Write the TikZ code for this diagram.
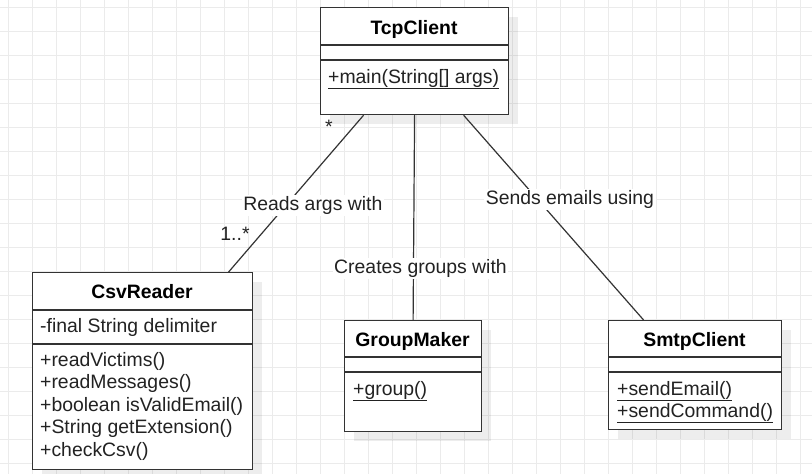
\documentclass[tikz,border=0pt]{standalone}
\usepackage{fontspec}
\setmainfont{Liberation Sans}
\usetikzlibrary{calc,shadows}
\definecolor{gridc}{HTML}{EBEBEB}
\definecolor{linec}{HTML}{333333}
\definecolor{txtc}{HTML}{222222}
\tikzset{
  classbox/.style={draw=linec, line width=1.2pt, fill=white, anchor=north west, inner sep=0pt,
    drop shadow={shadow xshift=9pt, shadow yshift=-9pt, fill=black, opacity=0.07}},
  sepline/.style={draw=linec, line width=1.2pt},
  title/.style={font=\fontsize{19.4}{22}\selectfont\bfseries, text=black, anchor=base, inner sep=0pt},
  member/.style={font=\fontsize{19.4}{22}\selectfont, text=txtc, anchor=base west, inner sep=0pt},
  conn/.style={draw=linec, line width=1.2pt},
  lbl/.style={font=\fontsize{19.4}{22}\selectfont, text=txtc, fill=white, inner sep=1.5pt},
  mult/.style={font=\fontsize{19.4}{22}\selectfont, text=txtc, inner sep=0pt}
}
\begin{document}
\begin{tikzpicture}[x=1pt, y=-1pt]
\useasboundingbox (0,0) rectangle (812,474);
\fill[white] (0,0) rectangle (812,474);
% grid
\foreach \gx in {8,32,...,800} { \draw[gridc, line width=1pt] (\gx,0) -- (\gx,474); }
\foreach \gy in {7,31,...,463} { \draw[gridc, line width=1pt] (0,\gy) -- (812,\gy); }

% TcpClient
\node[classbox, minimum width=188pt, minimum height=107pt] (tcp) at (320,7) {};
\draw[sepline] (320,45) -- (508,45);
\draw[sepline] (320,60) -- (508,60);
\node[title] (tcpt) at (414,34) {TcpClient};
\node[member] (tcpm) at (328,83) {\underline{+main(String[] args)}};

% CsvReader
\node[classbox, minimum width=220pt, minimum height=197pt] (csv) at (32,272) {};
\draw[sepline] (32,310) -- (252,310);
\draw[sepline] (32,344) -- (252,344);
\node[title] (csvt) at (142,298) {CsvReader};
\node[member] (csva) at (40,332.5) {-final String delimiter};
\node[member] (csvm1) at (40,366) {+readVictims()};
\node[member] (csvm2) at (40,388.5) {+readMessages()};
\node[member] (csvm3) at (40,411) {+boolean isValidEmail()};
\node[member] (csvm4) at (40,433.5) {+String getExtension()};
\node[member] (csvm5) at (40,456) {+checkCsv()};

% GroupMaker
\node[classbox, minimum width=137pt, minimum height=111pt] (gm) at (344,320) {};
\draw[sepline] (344,357) -- (481,357);
\draw[sepline] (344,372) -- (481,372);
\node[title] (gmt) at (412.5,346.5) {GroupMaker};
\node[member] (gmm) at (353,395) {\underline{+group()}};

% SmtpClient
\node[classbox, minimum width=173pt, minimum height=109pt] (smtp) at (608,320) {};
\draw[sepline] (608,357) -- (781,357);
\draw[sepline] (608,372) -- (781,372);
\node[title] (smtpt) at (694.5,346.5) {SmtpClient};
\node[member] (smtpm1) at (617,395) {\underline{+sendEmail()}};
\node[member] (smtpm2) at (617,417) {\underline{+sendCommand()}};

% connectors
\draw[conn] ([xshift=-51pt]tcp.south) -- ([xshift=86pt]csv.north)
  node[lbl, pos=0.576, xshift=27pt] (l1) {Reads args with};
\draw[conn] (tcp.south) -- (gm.north)
  node[lbl, pos=0.748, xshift=7pt] (l2) {Creates groups with};
\draw[conn] ([xshift=49pt]tcp.south) -- ([xshift=-51.5pt]smtp.north)
  node[lbl, pos=0.413, xshift=32pt] (l3) {Sends emails using};

\node[mult] (m1) at (329,127) {*};
\node[mult] (m2) at (235,234) {1..*};
\end{tikzpicture}
\end{document}
